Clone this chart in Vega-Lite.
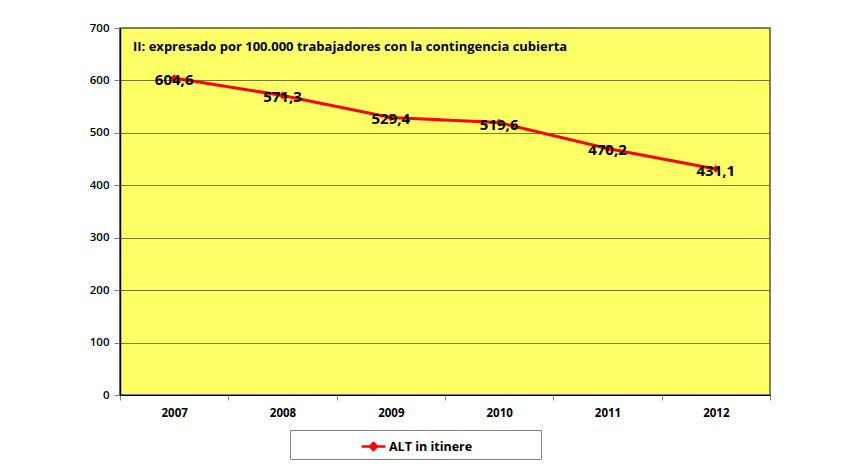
{
  "$schema": "https://vega.github.io/schema/vega-lite/v6.json",
  "width": 650,
  "height": 367,
  "autosize": "none",
  "padding": {"left": 120, "top": 28, "right": 84, "bottom": 78},
  "background": "white",
  "config": {
    "locale": {"number": {"decimal": ",", "thousands": ".", "grouping": [3], "currency": ["", " €"]}},
    "font": "Open Sans",
    "view": {"fill": "#FFFF66", "stroke": "#555555", "strokeWidth": 1.5}
  },
  "title": {
    "text": "II: expresado por 100.000 trabajadores con la contingencia cubierta",
    "anchor": "start",
    "frame": "group",
    "orient": "top",
    "offset": 0,
    "dx": 13,
    "dy": 32,
    "font": "Open Sans",
    "fontSize": 13,
    "fontWeight": "bold",
    "color": "#000000"
  },
  "data": {
    "values": [
      {"year": "2007", "value": 604.6, "serie": "ALT in itinere"},
      {"year": "2008", "value": 571.3, "serie": "ALT in itinere"},
      {"year": "2009", "value": 529.4, "serie": "ALT in itinere"},
      {"year": "2010", "value": 519.6, "serie": "ALT in itinere"},
      {"year": "2011", "value": 470.2, "serie": "ALT in itinere"},
      {"year": "2012", "value": 431.1, "serie": "ALT in itinere"}
    ]
  },
  "encoding": {
    "x": {
      "field": "year",
      "type": "ordinal",
      "bandPosition": 0.5,
      "scale": {"type": "band", "paddingInner": 0, "paddingOuter": 0},
      "axis": {
        "title": null,
        "labelAngle": 0,
        "tickBand": "extent",
        "domainColor": "#000000",
        "domainWidth": 1,
        "tickColor": "#808080",
        "tickSize": 5,
        "labelFont": "Open Sans",
        "labelFontSize": 11.5,
        "labelFontWeight": "bold",
        "labelColor": "#000000",
        "labelPadding": 7,
        "grid": false
      }
    },
    "y": {
      "field": "value",
      "type": "quantitative",
      "scale": {"domain": [0, 700], "nice": false},
      "axis": {
        "title": null,
        "values": [0, 100, 200, 300, 400, 500, 600, 700],
        "grid": true,
        "gridColor": "#7a7a2e",
        "gridWidth": 1,
        "domainColor": "#000000",
        "domainWidth": 1.5,
        "tickColor": "#808080",
        "tickSize": 6,
        "labelFont": "Open Sans",
        "labelFontSize": 11.5,
        "labelFontWeight": 600,
        "labelColor": "#000000",
        "labelPadding": 5
      }
    }
  },
  "layer": [
    {
      "mark": {"type": "line", "strokeWidth": 3},
      "encoding": {
        "color": {
          "field": "serie",
          "type": "nominal",
          "scale": {"range": ["#FF0000"]},
          "legend": {
            "title": " ",
            "titleOrient": "right",
            "titlePadding": 66,
            "orient": "none",
            "legendX": 170,
            "legendY": 402,
            "direction": "horizontal",
            "padding": 3,
            "strokeColor": "#808080",
            "fillColor": "#FFFFFF",
            "symbolType": "M-1,0L1,0M0,-0.3L0.3,0L0,0.3L-0.3,0Z",
            "symbolSize": 560,
            "symbolStrokeWidth": 2.5,
            "symbolFillColor": "#FF0000",
            "symbolStrokeColor": "#FF0000",
            "symbolOffset": 67,
            "labelFont": "Open Sans",
            "labelFontSize": 12.5,
            "labelFontWeight": "bold",
            "labelColor": "#000000",
            "labelOffset": 2
          }
        }
      }
    },
    {
      "mark": {"type": "point", "shape": "diamond", "filled": true, "size": 60, "opacity": 1},
      "encoding": {
        "color": {"field": "serie", "type": "nominal", "scale": {"range": ["#FF0000"]}, "legend": null}
      }
    },
    {
      "mark": {"type": "text", "font": "Open Sans", "fontSize": 15, "fontWeight": "bold", "color": "#000000", "baseline": "middle", "align": "center", "dy": 2},
      "encoding": {
        "text": {"field": "value", "type": "quantitative", "format": ".1f"}
      }
    }
  ]
}
